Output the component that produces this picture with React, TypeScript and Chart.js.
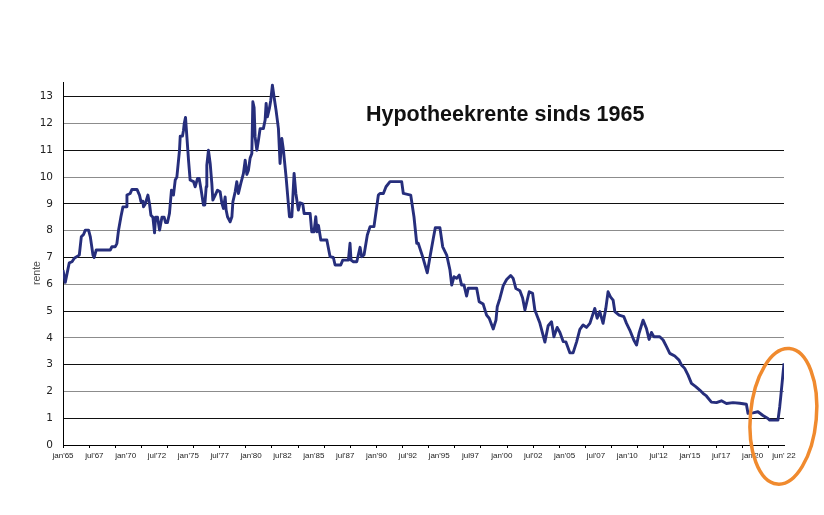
import { useEffect, useRef } from "react";
import Chart, { Plugin } from "chart.js/auto";

// decimal years and mortgage rate (%)
const years = [
  1965.0, 1965.18, 1965.5, 1965.72, 1965.9, 1966.16, 1966.3, 1966.46, 1966.64, 1966.78,
  1967.04, 1967.18, 1967.39, 1967.49, 1967.65, 1968.77, 1968.9, 1969.17, 1969.3, 1969.43,
  1969.62, 1969.78, 1970.04, 1970.1, 1970.36, 1970.5, 1970.9, 1971.1, 1971.22, 1971.37,
  1971.42, 1971.56, 1971.77, 1971.9, 1972.01, 1972.17, 1972.3, 1972.38, 1972.54, 1972.7,
  1972.89, 1973.07, 1973.18, 1973.33, 1973.49, 1973.65, 1973.81, 1973.95, 1974.08, 1974.29,
  1974.35, 1974.53, 1974.61, 1974.67, 1974.77, 1974.88, 1975.01, 1975.14, 1975.41, 1975.54,
  1975.73, 1975.86, 1976.02, 1976.2, 1976.31, 1976.42, 1976.47, 1976.6, 1976.74, 1976.87,
  1976.95, 1977.14, 1977.32, 1977.53, 1977.67, 1977.8, 1977.93, 1978.01, 1978.12, 1978.33,
  1978.47, 1978.55, 1978.73, 1978.86, 1978.99, 1979.18, 1979.39, 1979.53, 1979.66, 1979.79,
  1979.92, 1980.06, 1980.14, 1980.24, 1980.32, 1980.46, 1980.59, 1980.72, 1980.98, 1981.12,
  1981.2, 1981.3, 1981.46, 1981.57, 1981.7, 1981.83, 1981.99, 1982.18, 1982.31, 1982.45,
  1982.58, 1982.79, 1983.06, 1983.25, 1983.43, 1983.57, 1983.77, 1983.91, 1984.12, 1984.23,
  1984.71, 1984.84, 1985.02, 1985.16, 1985.26, 1985.37, 1985.56, 1986.04, 1986.3, 1986.56,
  1986.7, 1987.15, 1987.31, 1987.76, 1987.89, 1987.97, 1988.16, 1988.43, 1988.69, 1988.82,
  1989.01, 1989.27, 1989.49, 1989.8, 1990.15, 1990.28, 1990.55, 1990.76, 1991.08, 1992.01,
  1992.14, 1992.73, 1992.99, 1993.21, 1993.33, 1993.68, 1994.05, 1994.27, 1994.53, 1994.69,
  1995.06, 1995.28, 1995.6, 1995.86, 1996.0, 1996.18, 1996.39, 1996.6, 1996.79, 1996.98,
  1997.19, 1997.32, 1997.99, 1998.19, 1998.51, 1998.78, 1998.99, 1999.31, 1999.53, 1999.63,
  1999.84, 2000.11, 2000.38, 2000.7, 2000.9, 2001.12, 2001.44, 2001.65, 2001.84, 2002.18,
  2002.45, 2002.63, 2003.03, 2003.43, 2003.69, 2003.96, 2004.15, 2004.41, 2004.63, 2004.89,
  2005.1, 2005.42, 2005.68, 2005.96, 2006.22, 2006.48, 2006.75, 2007.02, 2007.41, 2007.6,
  2007.81, 2008.07, 2008.29, 2008.47, 2008.66, 2008.87, 2009.01, 2009.35, 2009.73, 2009.94,
  2010.2, 2010.52, 2010.74, 2010.94, 2011.26, 2011.53, 2011.74, 2011.93, 2012.12, 2012.59,
  2012.86, 2013.13, 2013.39, 2013.79, 2014.13, 2014.32, 2014.58, 2014.85, 2015.12, 2015.46,
  2015.78, 2016.04, 2016.31, 2016.71, 2017.11, 2017.51, 2017.91, 2018.43, 2018.97, 2019.5,
  2019.63, 2020.03, 2020.42, 2020.82, 2021.22, 2021.36, 2022.02, 2022.16, 2022.24, 2022.5,
];

const rates = [
  6.53, 6.07, 6.8, 6.84, 6.97, 7.05, 7.09, 7.77, 7.86, 8.02,
  8.02, 7.77, 7.09, 7.0, 7.28, 7.28, 7.4, 7.4, 7.53, 8.02,
  8.52, 8.89, 8.89, 9.33, 9.39, 9.54, 9.54, 9.33, 9.08, 9.1,
  8.89, 9.0, 9.33, 9.0, 8.58, 8.5, 7.92, 8.5, 8.5, 8.02,
  8.5, 8.5, 8.3, 8.3, 8.64, 9.51, 9.33, 9.89, 10.0, 11.0,
  11.53, 11.53, 11.75, 12.0, 12.23, 11.5, 10.63, 9.89, 9.83, 9.64,
  9.95, 9.95, 9.51, 8.96, 8.96, 9.64, 10.45, 11.0, 10.5, 9.76,
  9.14, 9.33, 9.51, 9.45, 9.02, 8.83, 9.26, 8.77, 8.52, 8.33,
  8.52, 9.08, 9.45, 9.83, 9.39, 9.76, 10.14, 10.63, 10.1, 10.26,
  10.7, 10.88, 12.81, 12.6, 11.5, 11.0, 11.38, 11.81, 11.81, 12.13,
  12.75, 12.25, 12.56, 12.87, 13.43, 13.0, 12.5, 11.81, 10.51, 11.44,
  11.0, 10.01, 8.52, 8.52, 10.14, 9.39, 8.77, 9.04, 9.0, 8.64,
  8.64, 7.96, 7.96, 8.52, 7.96, 8.2, 7.65, 7.65, 7.03, 7.0,
  6.72, 6.72, 6.9, 6.9, 7.53, 6.9, 6.84, 6.84, 7.38, 7.03,
  7.1, 7.84, 8.15, 8.15, 9.33, 9.39, 9.39, 9.64, 9.83, 9.83,
  9.39, 9.33, 8.52, 7.53, 7.53, 7.03, 6.43, 7.03, 7.71, 8.11,
  8.11, 7.4, 7.09, 6.53, 5.97, 6.28, 6.22, 6.34, 5.97, 5.97,
  5.56, 5.85, 5.85, 5.35, 5.26, 4.85, 4.73, 4.33, 4.66, 5.16,
  5.47, 5.95, 6.18, 6.33, 6.22, 5.84, 5.76, 5.5, 5.04, 5.72,
  5.66, 5.04, 4.55, 3.84, 4.45, 4.6, 4.04, 4.39, 4.2, 3.86,
  3.85, 3.44, 3.44, 3.85, 4.32, 4.48, 4.39, 4.54, 5.1, 4.73,
  4.98, 4.54, 5.1, 5.72, 5.53, 5.41, 4.98, 4.85, 4.79, 4.54,
  4.29, 3.92, 3.73, 4.17, 4.66, 4.35, 3.94, 4.2, 4.04, 4.04,
  3.92, 3.67, 3.42, 3.32, 3.17, 2.99, 2.86, 2.61, 2.3, 2.18,
  2.05, 1.93, 1.83, 1.6, 1.58, 1.65, 1.55, 1.58, 1.56, 1.52,
  1.18, 1.2, 1.24, 1.1, 0.99, 0.93, 0.93, 1.43, 1.8, 3.05,
];

const xLabels = [
  "jan'65", "jul'67", "jan'70", "jul'72", "jan'75", "jul'77", "jan'80", "jul'82",
  "jan'85", "jul'87", "jan'90", "jul'92", "jan'95", "jul97", "jan'00", "jul'02",
  "jan'05", "jul'07", "jan'10", "jul'12", "jan'15", "jul'17", "jan'20", "jun' 22",
];
const labelYears = [
  1965, 1967.5, 1970, 1972.5, 1975, 1977.5, 1980, 1982.5, 1985, 1987.5, 1990, 1992.5,
  1995, 1997.5, 2000, 2002.5, 2005, 2007.5, 2010, 2012.5, 2015, 2017.5, 2020, 2022.5,
];
// tick marks on the time axis (every 25 months)
const tickYears = [
  1965, 1967.083, 1969.167, 1971.25, 1973.333, 1975.417, 1977.5, 1979.583, 1981.667,
  1983.75, 1985.833, 1987.917, 1990, 1992.083, 1994.167, 1996.25, 1998.333, 2000.417,
  2002.5, 2004.583, 2006.667, 2008.75, 2010.833, 2012.917, 2015, 2017.083, 2019.167, 2021.25,
];
const yTicks = [0, 1, 2, 3, 4, 5, 6, 7, 8, 9, 10, 11, 12, 13];

// wipes the top two grid lines right of early 1982, as in the original
const coverPlugin: Plugin<"line"> = {
  id: "cover",
  beforeDatasetsDraw(chart) {
    const { ctx, chartArea, scales } = chart;
    const x0 = scales.x.getPixelForValue(1982.25);
    const y1 = scales.y.getPixelForValue(11.6);
    ctx.save();
    ctx.fillStyle = "#fff";
    ctx.fillRect(x0, chartArea.top, chartArea.right - x0 + 1, y1 - chartArea.top);
    ctx.restore();
  },
};

// orange circle round the last rise
const ellipsePlugin: Plugin<"line"> = {
  id: "ellipse",
  afterDraw(chart) {
    const { ctx, scales } = chart;
    const cx = scales.x.getPixelForValue(2022.45);
    const cy = scales.y.getPixelForValue(1.07);
    ctx.save();
    ctx.beginPath();
    ctx.ellipse(cx, cy, 33, 68, 0.09, 0, Math.PI * 2);
    ctx.strokeStyle = "#f08a2e";
    ctx.lineWidth = 3.5;
    ctx.stroke();
    ctx.restore();
  },
};

export default function App() {
  const chartRef = useRef<HTMLCanvasElement | null>(null);
  const chartInstance = useRef<Chart | null>(null);

  useEffect(() => {
    if (!chartRef.current) return;
    if (chartInstance.current) chartInstance.current.destroy();

    chartInstance.current = new Chart(chartRef.current, {
      type: "line",
      data: {
        datasets: [
          {
            label: "rente",
            data: years.map((x, i) => ({ x, y: rates[i] })),
            borderColor: "#262e7c",
            borderWidth: 2.9,
            pointRadius: 0,
            tension: 0,
            fill: false,
            borderJoinStyle: "round",
            xAxisID: "x",
            yAxisID: "y",
          },
        ],
      },
      options: {
        animation: false,
        responsive: true,
        maintainAspectRatio: false,
        layout: { padding: { top: 82, right: 40, bottom: 0, left: 0 } },
        plugins: {
          legend: { display: false },
          tooltip: { enabled: false },
        },
        scales: {
          x: {
            type: "linear",
            position: "bottom",
            min: 1965,
            max: 2022.5,
            weight: 0,
            afterBuildTicks: (s) => {
              s.ticks = tickYears.map((value) => ({ value }));
            },
            ticks: { display: false },
            grid: {
              drawOnChartArea: false,
              drawTicks: true,
              tickLength: 3,
              color: "#000",
              lineWidth: 1,
            },
            border: { display: true, color: "#000", width: 1 },
            afterFit: (s) => {
              s.height = 3;
            },
          },
          xl: {
            type: "linear",
            position: "bottom",
            min: 1965,
            max: 2022.5,
            weight: 1,
            afterBuildTicks: (s) => {
              s.ticks = labelYears.map((value) => ({ value }));
            },
            ticks: {
              autoSkip: false,
              maxRotation: 0,
              minRotation: 0,
              padding: 3,
              color: "#222",
              font: { family: "Liberation Sans", size: 8 },
              callback: (_v, i) => xLabels[i],
            },
            grid: { display: false, drawTicks: false },
            border: { display: false },
            afterFit: (s) => {
              s.height = 67;
            },
          },
          y: {
            type: "linear",
            min: 0,
            max: 13.55,
            afterBuildTicks: (s) => {
              s.ticks = yTicks.map((value) => ({ value }));
            },
            ticks: {
              padding: 10,
              color: "#222",
              font: { family: "DejaVu Sans", size: 10.5 },
              callback: (v) => String(v),
            },
            grid: {
              drawTicks: false,
              lineWidth: 1,
              color: (c) =>
                c.tick && c.tick.value % 2 === 0 && c.tick.value !== 0 ? "#8c8c8c" : "#111",
            },
            border: { display: true, color: "#000", width: 1 },
            afterFit: (s) => {
              s.width = 63;
            },
          },
        },
      },
      plugins: [coverPlugin, ellipsePlugin],
    });

    return () => {
      if (chartInstance.current) {
        chartInstance.current.destroy();
        chartInstance.current = null;
      }
    };
  }, []);

  return (
    <div
      style={{
        position: "absolute",
        left: 0,
        top: 0,
        width: 824,
        height: 515,
        background: "#fff",
      }}
    >
      <canvas ref={chartRef} />
      <div
        style={{
          position: "absolute",
          left: 366,
          top: 104,
          fontFamily: "Liberation Sans, Arial, sans-serif",
          fontWeight: "bold",
          fontSize: "21.5px",
          lineHeight: "21.5px",
          color: "#111",
          whiteSpace: "nowrap",
        }}
      >
        Hypotheekrente sinds 1965
      </div>
      <div
        style={{
          position: "absolute",
          left: 35.5,
          top: 273,
          transform: "translate(-50%, -50%) rotate(-90deg)",
          fontFamily: "Liberation Sans, Arial, sans-serif",
          fontSize: "10.5px",
          lineHeight: "12px",
          color: "#444",
          whiteSpace: "nowrap",
        }}
      >
        rente
      </div>
    </div>
  );
}
